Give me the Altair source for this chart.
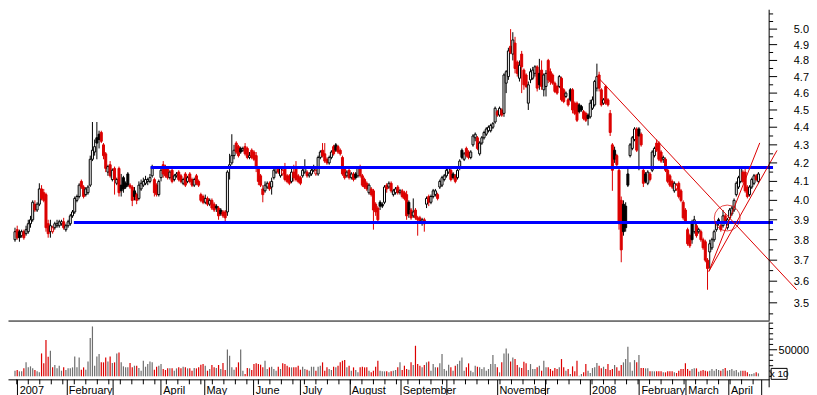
import json
import numpy as np
import pandas as pd
import altair as alt

RED = "#dc0000"
GRAY = "#6e6e6e"
BLUE = "#0000ff"
FONT = "Liberation Sans"

first_index = -1  # trading-day index of the first candle (0 = first day of Jan 2007)

opens = [
    3.80, 3.85, 3.84, 3.82, 3.84, 3.83, 3.84, 3.88, 3.90, 3.98, 3.95,
    3.98, 4.06, 4.04, 4.03, 3.88, 3.84, 3.84, 3.86, 3.87, 3.87,
    3.88, 3.89, 3.85, 3.87, 3.88, 3.92, 3.94, 4.00, 4.02, 4.10,
    4.07, 4.03, 4.04, 4.08, 4.22, 4.26, 4.34, 4.36, 4.37, 4.30,
    4.25, 4.15, 4.19, 4.11, 4.17, 4.09, 4.17, 4.08, 4.12, 4.09,
    4.14, 4.08, 4.07, 4.05, 4.03, 4.01, 4.06, 4.08, 4.09, 4.10,
    4.10, 4.13, 4.11, 4.08, 4.03, 4.12, 4.19, 4.18, 4.17, 4.12,
    4.16, 4.11, 4.13, 4.15, 4.13, 4.09, 4.14, 4.10, 4.14, 4.11,
    4.08, 4.13, 4.10, 4.03, 4.02, 3.99, 4.01, 3.98, 4.00, 3.98,
    3.97, 3.96, 3.95, 3.94, 3.94, 3.94, 4.17, 4.20, 4.24, 4.31,
    4.29, 4.28, 4.27, 4.29, 4.28, 4.23, 4.27, 4.26, 4.24, 4.17,
    4.13, 4.06, 4.05, 4.07, 4.09, 4.07, 4.12, 4.15, 4.17, 4.13,
    4.14, 4.18, 4.13, 4.13, 4.10, 4.15, 4.18, 4.13, 4.12, 4.13,
    4.15, 4.15, 4.13, 4.14, 4.16, 4.14, 4.14, 4.23, 4.27, 4.25,
    4.22, 4.20, 4.23, 4.29, 4.30, 4.29, 4.27, 4.23, 4.17, 4.13,
    4.16, 4.12, 4.14, 4.14, 4.13, 4.18, 4.13, 4.11, 4.09, 4.04,
    4.06, 4.05, 3.98, 3.96, 3.99, 3.98, 3.99, 4.08, 4.07, 4.09,
    4.03, 4.04, 4.07, 4.04, 4.05, 4.04, 4.03, 3.99, 3.95, 3.92,
    3.95, 3.91, 3.91, 3.89, 3.90, 3.98, 4.02, 3.99, 4.02, 4.03,
    4.03, 4.07, 4.08, 4.11, 4.13, 4.15, 4.16, 4.14, 4.13, 4.12,
    4.17, 4.27, 4.22, 4.28, 4.26, 4.23, 4.30, 4.34, 4.34, 4.25,
    4.31, 4.34, 4.36, 4.38, 4.38, 4.40, 4.43, 4.49, 4.47, 4.50,
    4.48, 4.66, 4.70, 4.89, 4.84, 4.91, 4.79, 4.69, 4.84, 4.74,
    4.71, 4.54, 4.68, 4.69, 4.72, 4.76, 4.72, 4.74, 4.62, 4.64,
    4.80, 4.73, 4.71, 4.66, 4.64, 4.64, 4.69, 4.62, 4.58, 4.56,
    4.62, 4.62, 4.54, 4.54, 4.53, 4.52, 4.49, 4.48, 4.47, 4.46,
    4.51, 4.53, 4.63, 4.71, 4.62, 4.54, 4.64, 4.56, 4.48, 4.30,
    4.27, 4.24, 4.16, 4.00, 3.98, 3.97, 4.14, 4.24, 4.28, 4.33,
    4.39, 4.39, 4.36, 4.16, 4.14, 4.09, 4.14, 4.16, 4.24, 4.31,
    4.31, 4.26, 4.22, 4.22, 4.16, 4.13, 4.10, 4.05, 4.06, 4.09,
    4.05, 3.99, 3.95, 3.85, 3.82, 3.88, 3.84, 3.87, 3.84, 3.84,
    3.80, 3.79, 3.70, 3.74, 3.76, 3.80, 3.85, 3.90, 3.87, 3.87,
    3.92, 3.86, 3.91, 3.93, 3.95, 4.03, 4.07, 4.10, 4.15, 4.15,
    4.07, 4.03, 4.07, 4.09, 4.13, 4.10,
]

highs = [
    3.86, 3.87, 3.85, 3.85, 3.85, 3.87, 3.90, 3.92, 4.00, 4.00, 3.99,
    4.09, 4.08, 4.06, 4.04, 3.90, 3.90, 3.87, 3.89, 3.90, 3.90,
    3.90, 3.91, 3.88, 3.90, 3.93, 3.95, 4.02, 4.03, 4.09, 4.11,
    4.08, 4.07, 4.08, 4.24, 4.43, 4.33, 4.43, 4.38, 4.38, 4.31,
    4.26, 4.19, 4.21, 4.17, 4.18, 4.12, 4.18, 4.14, 4.13, 4.10,
    4.15, 4.09, 4.08, 4.07, 4.04, 4.10, 4.11, 4.12, 4.13, 4.12,
    4.14, 4.19, 4.12, 4.09, 4.11, 4.18, 4.21, 4.19, 4.18, 4.16,
    4.17, 4.14, 4.15, 4.16, 4.14, 4.12, 4.15, 4.13, 4.15, 4.12,
    4.12, 4.14, 4.11, 4.04, 4.03, 4.03, 4.02, 4.01, 4.01, 3.99,
    3.98, 3.97, 3.96, 3.95, 3.95, 4.16, 4.25, 4.36, 4.30, 4.32,
    4.30, 4.29, 4.29, 4.31, 4.29, 4.26, 4.28, 4.27, 4.26, 4.18,
    4.14, 4.08, 4.10, 4.10, 4.10, 4.12, 4.17, 4.18, 4.18, 4.18,
    4.17, 4.20, 4.14, 4.14, 4.17, 4.19, 4.21, 4.14, 4.13, 4.18,
    4.22, 4.16, 4.15, 4.18, 4.19, 4.17, 4.24, 4.27, 4.31, 4.31,
    4.23, 4.24, 4.27, 4.30, 4.31, 4.30, 4.28, 4.24, 4.18, 4.16,
    4.17, 4.15, 4.15, 4.15, 4.18, 4.19, 4.14, 4.12, 4.10, 4.09,
    4.07, 4.06, 3.99, 3.97, 4.00, 3.99, 4.08, 4.09, 4.10, 4.10,
    4.06, 4.07, 4.08, 4.06, 4.06, 4.05, 4.05, 4.00, 3.96, 4.01,
    3.96, 3.92, 3.92, 3.91, 3.91, 4.02, 4.03, 4.03, 4.06, 4.06,
    4.04, 4.11, 4.13, 4.14, 4.17, 4.18, 4.17, 4.15, 4.14, 4.18,
    4.22, 4.28, 4.26, 4.29, 4.27, 4.27, 4.36, 4.37, 4.35, 4.32,
    4.35, 4.38, 4.40, 4.41, 4.42, 4.43, 4.52, 4.50, 4.52, 4.51,
    4.72, 4.74, 4.88, 5.00, 4.98, 4.95, 4.80, 4.80, 4.86, 4.75,
    4.72, 4.67, 4.75, 4.76, 4.77, 4.77, 4.81, 4.80, 4.72, 4.74,
    4.81, 4.75, 4.72, 4.67, 4.65, 4.71, 4.70, 4.63, 4.61, 4.57,
    4.63, 4.63, 4.55, 4.55, 4.54, 4.53, 4.50, 4.49, 4.48, 4.56,
    4.58, 4.68, 4.78, 4.73, 4.63, 4.57, 4.65, 4.57, 4.50, 4.31,
    4.29, 4.25, 4.17, 4.02, 4.00, 3.99, 4.18, 4.31, 4.35, 4.40,
    4.40, 4.40, 4.37, 4.17, 4.15, 4.16, 4.15, 4.27, 4.29, 4.33,
    4.32, 4.27, 4.24, 4.23, 4.17, 4.14, 4.11, 4.10, 4.09, 4.10,
    4.06, 4.00, 3.96, 3.86, 3.83, 3.90, 3.92, 3.88, 3.86, 3.85,
    3.81, 3.80, 3.71, 3.80, 3.81, 3.85, 3.89, 3.91, 3.88, 3.95,
    3.93, 3.91, 3.96, 3.97, 4.01, 4.10, 4.13, 4.18, 4.16, 4.18,
    4.08, 4.08, 4.12, 4.14, 4.14, 4.15,
]

lows = [
    3.79, 3.80, 3.79, 3.81, 3.80, 3.82, 3.83, 3.86, 3.89, 3.94, 3.94,
    3.97, 4.00, 3.99, 3.84, 3.81, 3.81, 3.83, 3.85, 3.86, 3.86,
    3.87, 3.85, 3.84, 3.86, 3.87, 3.91, 3.93, 3.99, 4.01, 4.06,
    4.01, 4.02, 4.03, 4.07, 4.21, 4.24, 4.22, 4.28, 4.31, 4.22,
    4.15, 4.13, 4.12, 4.10, 4.03, 4.08, 4.02, 4.02, 4.04, 4.06,
    4.07, 4.06, 3.97, 4.00, 3.98, 4.00, 4.05, 4.07, 4.08, 4.08,
    4.09, 4.12, 4.02, 4.02, 4.02, 4.10, 4.12, 4.12, 4.11, 4.11,
    4.09, 4.10, 4.12, 4.10, 4.09, 4.08, 4.07, 4.09, 4.09, 4.07,
    4.07, 4.08, 4.07, 3.99, 3.98, 3.98, 3.97, 3.97, 3.95, 3.94,
    3.94, 3.90, 3.92, 3.91, 3.89, 3.92, 4.11, 4.19, 4.22, 4.25,
    4.23, 4.25, 4.26, 4.24, 4.22, 4.22, 4.22, 4.21, 4.15, 4.08,
    4.07, 3.99, 4.04, 4.06, 4.05, 4.03, 4.11, 4.14, 4.14, 4.12,
    4.13, 4.10, 4.09, 4.08, 4.09, 4.10, 4.10, 4.09, 4.08, 4.12,
    4.14, 4.12, 4.12, 4.13, 4.15, 4.13, 4.13, 4.22, 4.23, 4.20,
    4.19, 4.19, 4.22, 4.24, 4.26, 4.25, 4.24, 4.13, 4.11, 4.12,
    4.11, 4.11, 4.10, 4.11, 4.12, 4.12, 4.07, 4.06, 4.05, 4.03,
    4.02, 3.85, 3.92, 3.89, 3.95, 3.96, 3.98, 4.04, 4.06, 4.04,
    4.02, 4.03, 4.03, 4.03, 4.01, 4.00, 3.90, 3.91, 3.90, 3.91,
    3.90, 3.82, 3.88, 3.87, 3.84, 3.96, 3.97, 3.98, 4.01, 4.02,
    4.00, 4.06, 4.07, 4.10, 4.12, 4.14, 4.10, 4.11, 4.09, 4.11,
    4.16, 4.22, 4.21, 4.23, 4.22, 4.22, 4.29, 4.32, 4.27, 4.24,
    4.30, 4.33, 4.35, 4.37, 4.37, 4.39, 4.42, 4.46, 4.46, 4.46,
    4.46, 4.60, 4.68, 4.84, 4.80, 4.72, 4.70, 4.67, 4.60, 4.62,
    4.63, 4.50, 4.66, 4.68, 4.70, 4.61, 4.62, 4.62, 4.58, 4.58,
    4.66, 4.65, 4.65, 4.60, 4.59, 4.63, 4.55, 4.54, 4.57, 4.52,
    4.55, 4.48, 4.47, 4.43, 4.48, 4.49, 4.44, 4.43, 4.41, 4.45,
    4.50, 4.52, 4.61, 4.61, 4.52, 4.53, 4.53, 4.52, 4.35, 4.05,
    4.20, 4.17, 3.85, 3.69, 3.82, 3.84, 4.07, 4.23, 4.27, 4.32,
    4.26, 4.16, 4.29, 4.07, 4.09, 4.08, 4.10, 4.15, 4.23, 4.26,
    4.21, 4.20, 4.20, 4.15, 4.09, 4.07, 4.06, 4.04, 4.05, 4.01,
    3.99, 3.90, 3.88, 3.77, 3.76, 3.78, 3.83, 3.81, 3.83, 3.79,
    3.75, 3.69, 3.56, 3.66, 3.75, 3.79, 3.84, 3.87, 3.84, 3.86,
    3.88, 3.85, 3.90, 3.92, 3.94, 4.02, 4.06, 4.09, 4.09, 4.04,
    4.01, 4.02, 4.06, 4.08, 4.10, 4.09,
]

closes = [
    3.84, 3.81, 3.81, 3.84, 3.81, 3.85, 3.88, 3.90, 3.99, 3.95, 3.98,
    4.06, 4.01, 4.00, 3.86, 3.83, 3.87, 3.86, 3.88, 3.88, 3.89,
    3.89, 3.86, 3.87, 3.89, 3.92, 3.94, 4.01, 4.02, 4.08, 4.07,
    4.02, 4.06, 4.07, 4.22, 4.27, 4.29, 4.31, 4.33, 4.32, 4.24,
    4.17, 4.18, 4.13, 4.16, 4.11, 4.11, 4.04, 4.05, 4.06, 4.07,
    4.08, 4.07, 4.00, 4.02, 4.00, 4.08, 4.09, 4.10, 4.11, 4.11,
    4.12, 4.18, 4.04, 4.03, 4.10, 4.16, 4.14, 4.13, 4.12, 4.15,
    4.10, 4.13, 4.14, 4.11, 4.10, 4.11, 4.08, 4.12, 4.10, 4.08,
    4.11, 4.09, 4.08, 4.00, 3.99, 4.01, 3.98, 4.00, 3.96, 3.95,
    3.96, 3.92, 3.93, 3.92, 3.91, 4.15, 4.19, 4.24, 4.27, 4.26,
    4.24, 4.26, 4.28, 4.25, 4.23, 4.24, 4.23, 4.22, 4.17, 4.10,
    4.08, 4.03, 4.08, 4.09, 4.06, 4.10, 4.16, 4.17, 4.15, 4.17,
    4.16, 4.11, 4.10, 4.09, 4.15, 4.12, 4.11, 4.10, 4.09, 4.16,
    4.18, 4.13, 4.14, 4.16, 4.17, 4.16, 4.23, 4.26, 4.24, 4.21,
    4.20, 4.23, 4.26, 4.25, 4.27, 4.26, 4.25, 4.14, 4.12, 4.15,
    4.12, 4.14, 4.11, 4.12, 4.17, 4.13, 4.08, 4.07, 4.06, 4.08,
    4.03, 3.95, 3.94, 3.90, 3.97, 3.97, 4.07, 4.06, 4.09, 4.05,
    4.05, 4.06, 4.04, 4.05, 4.02, 4.01, 3.92, 3.93, 3.91, 3.94,
    3.91, 3.90, 3.89, 3.90, 3.88, 4.01, 3.99, 4.02, 4.05, 4.05,
    4.01, 4.10, 4.12, 4.13, 4.16, 4.17, 4.11, 4.12, 4.10, 4.16,
    4.21, 4.23, 4.25, 4.24, 4.23, 4.26, 4.35, 4.36, 4.28, 4.31,
    4.34, 4.37, 4.39, 4.40, 4.41, 4.42, 4.51, 4.47, 4.51, 4.47,
    4.71, 4.73, 4.86, 4.85, 4.93, 4.75, 4.72, 4.77, 4.76, 4.65,
    4.64, 4.65, 4.73, 4.74, 4.76, 4.63, 4.65, 4.64, 4.71, 4.72,
    4.68, 4.67, 4.66, 4.61, 4.60, 4.70, 4.56, 4.55, 4.60, 4.53,
    4.56, 4.50, 4.48, 4.44, 4.49, 4.50, 4.45, 4.44, 4.45, 4.54,
    4.56, 4.67, 4.70, 4.63, 4.53, 4.56, 4.54, 4.53, 4.37, 4.16,
    4.22, 4.19, 3.88, 3.75, 3.84, 3.86, 4.08, 4.30, 4.34, 4.39,
    4.27, 4.35, 4.30, 4.09, 4.10, 4.15, 4.11, 4.26, 4.28, 4.27,
    4.22, 4.21, 4.23, 4.16, 4.10, 4.08, 4.07, 4.09, 4.08, 4.02,
    4.00, 3.91, 3.89, 3.78, 3.77, 3.80, 3.90, 3.82, 3.85, 3.80,
    3.76, 3.70, 3.66, 3.78, 3.80, 3.84, 3.88, 3.89, 3.85, 3.92,
    3.89, 3.90, 3.95, 3.96, 4.00, 4.09, 4.12, 4.17, 4.10, 4.05,
    4.02, 4.07, 4.11, 4.13, 4.11, 4.14,
]

volumes = [
    10600, 11900, 9400, 9400, 15000, 26300, 16900, 18800, 15000, 11900, 9400,
    7500, 43100, 24400, 68100, 36900, 48100, 16900, 21300, 15000, 20000,
    10600, 16900, 11900, 15000, 15000, 16900, 37500, 16900, 35600, 12500,
    16900, 12500, 28100, 71900, 93800, 20000, 37500, 41900, 26300, 26300,
    35600, 28100, 37500, 25000, 26300, 43100, 45000, 26300, 18800, 16900,
    16900, 25000, 16900, 20000, 20000, 15600, 10600, 29400, 18100, 23100,
    28100, 26300, 12500, 18100, 20000, 23100, 13800, 11900, 15000, 15000,
    15000, 10600, 15000, 16900, 15000, 18100, 16900, 15000, 15000, 10600,
    15600, 15000, 16900, 21900, 23100, 20000, 10600, 13800, 21300, 16900,
    15600, 21300, 13800, 25000, 11900, 50600, 38800, 16900, 12500, 16900,
    26300, 50600, 10600, 4400, 15600, 15000, 11900, 23100, 24400, 23100,
    21900, 16900, 29400, 13800, 16900, 18100, 13800, 10600, 18100, 13800,
    24400, 23100, 20000, 16900, 16900, 16900, 16900, 20000, 12500, 18100,
    13800, 12500, 10600, 18100, 18100, 10600, 18100, 20000, 26300, 10600,
    16900, 13800, 11900, 18100, 16900, 20000, 26300, 29400, 30600, 16900,
    20000, 10600, 16900, 11900, 7500, 16900, 18100, 16900, 16900, 10600,
    7500, 10600, 18100, 29400, 10600, 9400, 9400, 9400, 7500, 9400,
    10600, 11900, 16900, 26300, 11900, 20000, 13800, 12500, 26300, 21300,
    57500, 23100, 20000, 16900, 21300, 26300, 28100, 10600, 23100, 16900,
    16900, 24400, 41900, 13800, 10600, 21900, 16900, 10600, 20000, 23100,
    29400, 35600, 10600, 16900, 24400, 10600, 7500, 20000, 18100, 16900,
    13800, 16900, 10600, 13800, 23100, 40000, 23100, 16900, 7500, 26300,
    43100, 52500, 43100, 28100, 35600, 32500, 21300, 16900, 15600, 27500,
    24400, 11900, 23100, 13800, 13800, 16900, 20000, 10600, 29400, 16900,
    16900, 13800, 10600, 15600, 13800, 16900, 32500, 16900, 10600, 13800,
    4400, 18800, 9400, 29400, 1300, 4400, 7500, 23100, 10600, 6300,
    15600, 16900, 25000, 20000, 15000, 18100, 13800, 23100, 11900, 13800,
    21300, 16900, 10600, 21300, 26300, 32500, 55600, 26300, 10600, 30600,
    26300, 40000, 15600, 15600, 15000, 15000, 9400, 9400, 9400, 9400,
    9400, 9400, 7500, 7500, 9400, 9400, 9400, 7500, 6300, 10600,
    13800, 13800, 24400, 13800, 10600, 13800, 15000, 15000, 8800, 10600,
    11900, 10600, 9400, 10600, 13800, 10600, 13800, 11900, 10600, 13800,
    15600, 10600, 11900, 13800, 10600, 11900, 7500, 10600, 10600, 10600,
    7500, 4400, 4400, 5600, 7500, 5600,
]

# x-axis: month starts (trading-day index) and their labels
month_ticks = [0, 22.2, 43, 64.9, 84.4, 106.7, 127.9, 150.1, 173.1, 193.8,
               216.8, 238.5, 258.7, 281, 302.2, 321.5, 336.4]
month_labels = ["2007", "February", "", "April", "May", "June", "July", "August",
                "September", "", "November", "", "2008", "February", "March", "April", ""]
# short weekly ticks on the date axis (about one per 5.2 index units)
week_ticks = [round(244.2 - 5.2 * k, 1) for k in range(47, -18, -1)]

price_major = [3.5, 3.6, 3.7, 3.8, 3.9, 4.0, 4.1, 4.2, 4.3, 4.4, 4.5, 4.6, 4.7, 4.8, 4.9, 5.0]
price_labels = ["3.5", "3.6", "3.7", "3.8", "3.9", "4.0", "4.1", "4.2", "4.3", "4.4",
                "4.5", "4.6", "4.7", "4.8", "4.9", "5.0"]
price_minor = [3.45, 3.55, 3.65, 3.75, 3.85, 3.95, 4.05, 4.15, 4.25, 4.35, 4.45,
               4.55, 4.65, 4.75, 4.85, 4.95, 5.05, 5.1]
vol_major = [50000]
vol_labels = ["50000"]
vol_minor = [0, 10000, 20000, 30000, 40000, 60000, 70000, 80000, 90000, 100000]

# horizontal support / resistance lines (blue)
blue_level = [3.886, 4.175]
blue_start = [25.6, 60.3]
blue_end = [341.6, 341.6]

# red trend lines (trading-day index, price)
trend_x1 = [262.1, 312.6, 312.6]
trend_p1 = [4.701, 3.646, 3.646]
trend_x2 = [352.3, 335.6, 343.4]
trend_p2 = [3.560, 4.311, 4.269]

circle_x = [320.9]
circle_p = [3.909]

# ---------------------------------------------------------------
n = len(opens)
df = pd.DataFrame({
    "i": list(range(first_index, first_index + n)),
    "o": opens, "h": highs, "l": lows, "c": closes, "v": volumes,
})
prev = df["c"].shift(1)
prev.iloc[0] = df["o"].iloc[0]
down = df["c"] < prev
df["col"] = np.where(down, RED, "black")
df["fill"] = np.where(df["c"] > df["o"], "white", df["col"])
df["vcol"] = np.where(down, RED, GRAY)

W = 764
H_PRICE = 312
H_VOL = 57
LABEL_RIGHT = W + 40   # right edge of the right-hand axis labels

xs = alt.Scale(domain=[-1.911, 337.6], nice=False, zero=False)
ys = alt.Scale(type="log", domain=[3.420, 5.128], nice=False, zero=False)
vs = alt.Scale(domain=[-5618, 101120], nice=False, zero=False)

# the same axis object is given to every layer so the shared axis is kept
price_x_axis = alt.Axis(labels=False, ticks=False, title=None, domainColor="black",
                        domainWidth=1, grid=False)

wicks = alt.Chart(df).mark_rule(strokeWidth=1).encode(
    x=alt.X("i:Q", scale=xs, axis=price_x_axis),
    y=alt.Y("l:Q", scale=ys, axis=None),
    y2="h:Q",
    color=alt.Color("col:N", scale=None),
)
bodies = alt.Chart(df).mark_bar(size=2, strokeWidth=1).encode(
    x=alt.X("i:Q", scale=xs, axis=price_x_axis),
    y=alt.Y("o:Q", scale=ys, axis=None),
    y2="c:Q",
    fill=alt.Fill("fill:N", scale=None),
    stroke=alt.Stroke("col:N", scale=None),
)
blue_df = pd.DataFrame({"s": blue_start, "e": blue_end, "p": blue_level})
blue = alt.Chart(blue_df).mark_rule(color=BLUE, strokeWidth=3).encode(
    x=alt.X("s:Q", scale=xs, axis=price_x_axis), x2="e:Q",
    y=alt.Y("p:Q", scale=ys, axis=None),
)
trend_df = pd.DataFrame({"x1": trend_x1, "p1": trend_p1, "x2": trend_x2, "p2": trend_p2})
trend = alt.Chart(trend_df).mark_rule(color=RED, strokeWidth=1).encode(
    x=alt.X("x1:Q", scale=xs, axis=price_x_axis), x2="x2:Q",
    y=alt.Y("p1:Q", scale=ys, axis=None), y2="p2:Q",
)
circ_df = pd.DataFrame({"x": circle_x, "p": circle_p})
circ = alt.Chart(circ_df).mark_point(shape="circle", size=676, filled=False,
                                     color=RED, strokeWidth=1).encode(
    x=alt.X("x:Q", scale=xs, axis=price_x_axis),
    y=alt.Y("p:Q", scale=ys, axis=None),
)

# right-hand price axis (domain line, ticks, labels)
one = pd.DataFrame({"k": [0]})
p_domain = alt.Chart(one).mark_rule(color="black").encode(
    x=alt.value(W), y=alt.value(0), y2=alt.value(H_PRICE),
)
pmajor_df = pd.DataFrame({"p": price_major, "t": price_labels})
p_major = alt.Chart(pmajor_df).mark_rule(color="black").encode(
    x=alt.value(W), x2=alt.value(W + 8), y=alt.Y("p:Q", scale=ys, axis=None),
)
p_minor = alt.Chart(pd.DataFrame({"p": price_minor})).mark_rule(color="black").encode(
    x=alt.value(W), x2=alt.value(W + 4), y=alt.Y("p:Q", scale=ys, axis=None),
)
p_labels = alt.Chart(pmajor_df).mark_text(
    font=FONT, fontSize=11, color="black", align="right", baseline="middle", dy=1
).encode(
    x=alt.value(LABEL_RIGHT), y=alt.Y("p:Q", scale=ys, axis=None), text="t:N",
)

price = alt.layer(wicks, bodies, blue, trend, circ,
                  p_domain, p_major, p_minor, p_labels).properties(width=W, height=H_PRICE)

label_expr = f"{json.dumps(month_labels)}[indexof({json.dumps(month_ticks)}, datum.value)]"
x_axis = alt.Axis(
    values=month_ticks, labelExpr=label_expr, title=None, grid=False,
    tickSize=18, tickColor="black", domainColor="black",
    labelAlign="left", labelBaseline="middle", labelPadding=-7, labelOffset=2,
    labelFont=FONT, labelFontSize=11, labelColor="black",
    labelOverlap=False, labelFlush=False, labelBound=False,
)
vbars = alt.Chart(df).mark_bar(size=1.2).encode(
    x=alt.X("i:Q", scale=xs, axis=x_axis),
    y=alt.Y("v:Q", scale=vs, axis=None),
    y2=alt.datum(0),
    color=alt.Color("vcol:N", scale=None),
)
weeks = alt.Chart(pd.DataFrame({"w": week_ticks})).mark_rule(color="black").encode(
    x=alt.X("w:Q", scale=xs, axis=x_axis), y=alt.value(H_VOL), y2=alt.value(H_VOL + 5),
)
v_domain = alt.Chart(one).mark_rule(color="black").encode(
    x=alt.value(W), y=alt.value(0), y2=alt.value(H_VOL + 8),
)
vmajor_df = pd.DataFrame({"v": vol_major, "t": vol_labels})
v_major = alt.Chart(vmajor_df).mark_rule(color="black").encode(
    x=alt.value(W), x2=alt.value(W + 8), y=alt.Y("v:Q", scale=vs, axis=None),
)
v_minor = alt.Chart(pd.DataFrame({"v": vol_minor})).mark_rule(color="black").encode(
    x=alt.value(W), x2=alt.value(W + 4), y=alt.Y("v:Q", scale=vs, axis=None),
)
v_labels = alt.Chart(vmajor_df).mark_text(
    font=FONT, fontSize=11, color="black", align="right", baseline="middle", dy=1
).encode(
    x=alt.value(LABEL_RIGHT), y=alt.Y("v:Q", scale=vs, axis=None), text="t:N",
)
box_df = pd.DataFrame({"t": ["x 10"]})
box = alt.Chart(box_df).mark_rect(fill="white", stroke="black", strokeWidth=1).encode(
    x=alt.value(W + 2), x2=alt.value(W + 18), y=alt.value(46), y2=alt.value(57),
)
box_text = alt.Chart(box_df).mark_text(font=FONT, fontSize=10, color="black",
                                       align="center", baseline="middle").encode(
    x=alt.value(W + 10), y=alt.value(52), text="t:N",
)
volume = alt.layer(vbars, weeks, v_domain, v_major, v_minor, v_labels, box, box_text).properties(
    width=W, height=H_VOL)

chart = alt.vconcat(price, volume, spacing=0).properties(
    padding={"left": 0, "top": 0, "right": 0, "bottom": 0}
).configure_view(stroke=None).configure_axis(grid=False)

chart.save("out.html", embed_options={"renderer": "svg", "actions": False})
